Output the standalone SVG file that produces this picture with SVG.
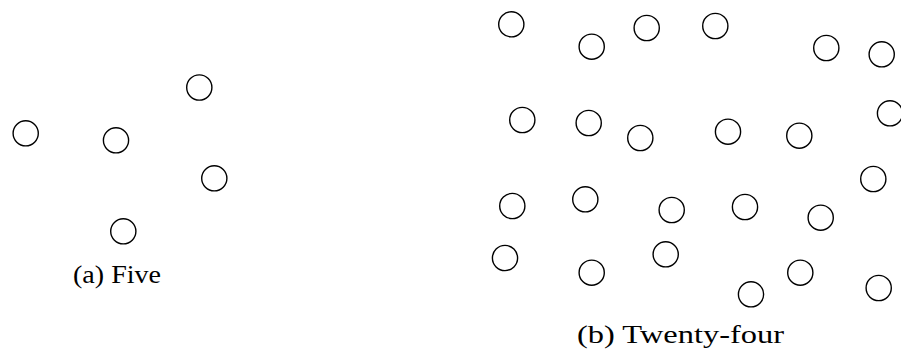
<svg xmlns="http://www.w3.org/2000/svg" width="901" height="354" viewBox="0 0 901 354">
<style>
.n{fill:none;stroke:#000;stroke-width:1.4}
.t{font-family:"Liberation Serif","DejaVu Serif",serif;font-size:25px;fill:#000}
</style>
<rect width="901" height="354" fill="#fff"/>
<g id="five">
<circle id="a1" class="n" cx="199.3" cy="87.5" r="12.6"/>
<circle id="a2" class="n" cx="25.7" cy="133.3" r="12.6"/>
<circle id="a3" class="n" cx="116" cy="140.3" r="12.6"/>
<circle id="a4" class="n" cx="214.3" cy="178.3" r="12.6"/>
<circle id="a5" class="n" cx="123.3" cy="231.3" r="12.6"/>
</g>
<g id="twentyfour">
<circle id="b1" class="n" cx="511.3" cy="24.3" r="12.6"/>
<circle id="b2" class="n" cx="591.7" cy="46.7" r="12.6"/>
<circle id="b3" class="n" cx="646.7" cy="28" r="12.6"/>
<circle id="b4" class="n" cx="715.3" cy="26" r="12.6"/>
<circle id="b5" class="n" cx="826.3" cy="48" r="12.6"/>
<circle id="b6" class="n" cx="881.7" cy="54.3" r="12.6"/>
<circle id="b7" class="n" cx="522.3" cy="120" r="12.6"/>
<circle id="b8" class="n" cx="588.7" cy="123" r="12.6"/>
<circle id="b9" class="n" cx="640.3" cy="138" r="12.6"/>
<circle id="b10" class="n" cx="728" cy="131.7" r="12.6"/>
<circle id="b11" class="n" cx="799.3" cy="135.7" r="12.6"/>
<circle id="b12" class="n" cx="890" cy="113.3" r="12.6"/>
<circle id="b13" class="n" cx="873.3" cy="179" r="12.6"/>
<circle id="b14" class="n" cx="512.3" cy="206" r="12.6"/>
<circle id="b15" class="n" cx="585.3" cy="199.3" r="12.6"/>
<circle id="b16" class="n" cx="671.7" cy="210" r="12.6"/>
<circle id="b17" class="n" cx="745" cy="207" r="12.6"/>
<circle id="b18" class="n" cx="820.7" cy="217.7" r="12.6"/>
<circle id="b19" class="n" cx="505" cy="258" r="12.6"/>
<circle id="b20" class="n" cx="591.7" cy="272.7" r="12.6"/>
<circle id="b21" class="n" cx="665.7" cy="254.3" r="12.6"/>
<circle id="b22" class="n" cx="800.3" cy="272.7" r="12.6"/>
<circle id="b23" class="n" cx="751" cy="294.3" r="12.6"/>
<circle id="b24" class="n" cx="878.7" cy="288" r="12.6"/>
</g>
<g id="connectors"/>
<text class="t" x="73" y="283" textLength="88" lengthAdjust="spacingAndGlyphs">(a) Five</text>
<text class="t" x="577" y="343" textLength="207" lengthAdjust="spacingAndGlyphs">(b) Twenty-four</text>
</svg>
